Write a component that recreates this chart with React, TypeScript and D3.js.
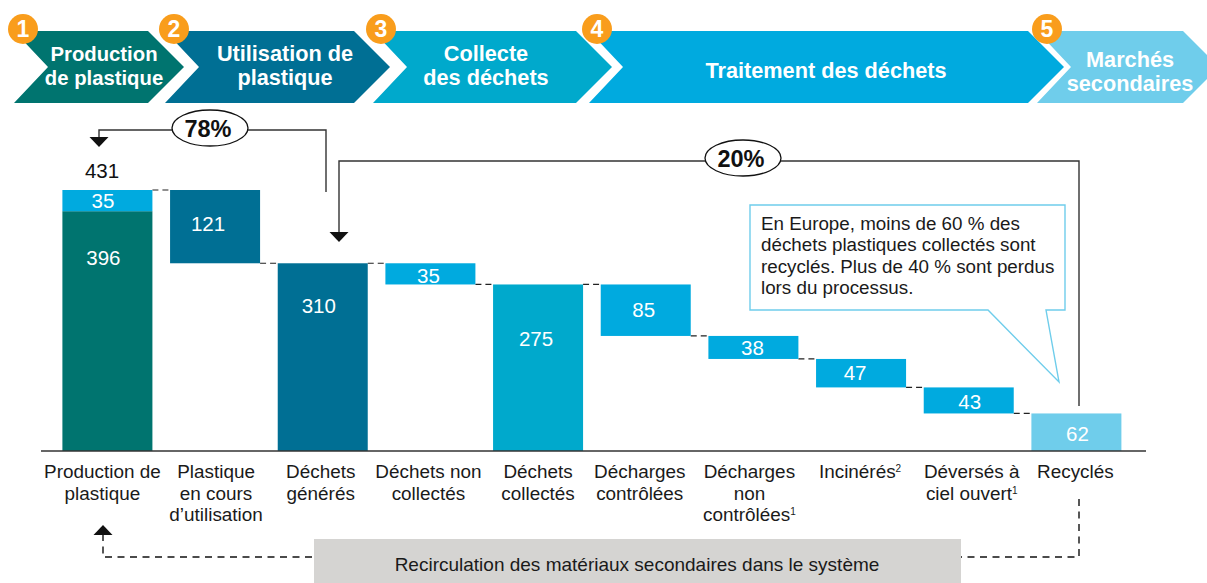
import React, { useEffect, useRef } from 'react';
import * as d3 from 'd3';

// values, in millions of tonnes
const categories = [
    'Production de plastique', 'Plastique en cours', 'Déchets générés', 'Déchets non collectés', 'Déchets collectés',
    'Décharges contrôlées', 'Décharges non contrôlées', 'Incinérés', 'Déversés à ciel ouvert', 'Recyclés',
];
const barValues = [396, 121, 310, 35, 275, 85, 38, 47, 43, 62];
const barTops = [396, 431, 310, 310, 275, 275, 190, 152, 105, 62];
const barBottoms = [0, 310, 0, 275, 0, 190, 152, 105, 62, 0];
const connectorLevels = [431, 310, 310, 275, 275, 190, 152, 105, 62];
const extraSegment = 35; // light part on top of the first bar
const total = 431;
const barColors = ['#00746f', '#006f94', '#006f94', '#00aadf', '#00a9cc', '#00aadf', '#00aadf', '#00aadf', '#00aadf', '#6fcdeb'];

// tick text, one entry per line; [text, superscript]
const tickLines: [string, string?][][] = [
    [['Production de'], ['plastique']],
    [['Plastique'], ['en cours'], ['d’utilisation']],
    [['Déchets'], ['générés']],
    [['Déchets non'], ['collectés']],
    [['Déchets'], ['collectés']],
    [['Décharges'], ['contrôlées']],
    [['Décharges'], ['non'], ['contrôlées', '1']],
    [['Incinérés', '2']],
    [['Déversés à'], ['ciel ouvert', '1']],
    [['Recyclés']],
];

const stages = [
    { n: 1, lines: ['Production', 'de plastique'], color: '#00746f' },
    { n: 2, lines: ['Utilisation de', 'plastique'], color: '#006f94' },
    { n: 3, lines: ['Collecte', 'des déchets'], color: '#00a9cc' },
    { n: 4, lines: ['Traitement des déchets'], color: '#00aadf' },
    { n: 5, lines: ['Marchés', 'secondaires'], color: '#6fcdeb' },
];
const calloutLines = [
    'En Europe, moins de 60 % des',
    'déchets plastiques collectés sont',
    'recyclés. Plus de 40 % sont perdus',
    'lors du processus.',
];

// layout of the header: left, right (shoulder), text centre, badge centre, font size
const stageBox = [
    [14, 148, 104, 23, 20.3],
    [165, 354, 285, 174, 21.7],
    [373, 576, 486, 381, 21.7],
    [589, 1028, 826, 597, 21.7],
    [1037, 1183, 1130, 1047, 21.7],
];
// tweaks of the value labels in the bars, relative to bar centre
const labelDx = [-4, -7, -4, -2, -2, -2, -1, -6, 1, 1];
const labelY = [258, 224, 306, 276, 339, 310, 348, 373, 402, 434];
const tickDx = [-5, 1, -2, -2, 0, -6, -4, -1, 3, -1];

const FONT = '"Liberation Sans", Arial, sans-serif';

function App() {
    const ref = useRef<SVGSVGElement>(null);

    useEffect(() => {
        const svg = d3.select(ref.current);
        svg.selectAll('*').remove();
        svg.attr('font-family', FONT);

        const x = d3.scaleBand<string>().domain(categories).range([62.4, 1121.4]).paddingInner(0.164);
        const y = d3.scaleLinear().domain([0, total]).range([451, 190]);
        const line = d3.line();

        // header chevrons
        const head = svg.append('g');
        stages.forEach((s, i) => {
            const [l, r, cx, , size] = stageBox[i];
            const pts: [number, number][] = [[l, 31], [r, 31], [r + 36, 67], [r, 103], [l, 103], [l + 34, 67]];
            head.append('path').attr('d', line(pts) + 'Z').attr('fill', s.color);
            const base = i === 4 ? 67 : s.lines.length === 1 ? 78 : 61;
            s.lines.forEach((t, j) => {
                head.append('text').attr('x', cx).attr('y', base + j * 24).attr('text-anchor', 'middle')
                    .attr('fill', 'white').attr('font-size', size).attr('font-weight', 'bold').text(t);
            });
        });
        stages.forEach((s, i) => {
            const bx = stageBox[i][3];
            head.append('circle').attr('cx', bx).attr('cy', 29).attr('r', 15).attr('fill', '#f99d1c');
            head.append('text').attr('x', bx).attr('y', 37).attr('text-anchor', 'middle').attr('fill', 'white')
                .attr('font-size', 23).attr('font-weight', 'bold').text(s.n);
        });

        // connectors between bars
        svg.append('g').selectAll('line').data(connectorLevels).enter().append('line')
            .attr('x1', (d, i) => x(categories[i])! + x.bandwidth())
            .attr('x2', (d, i) => x(categories[i + 1])!)
            .attr('y1', d => y(d))
            .attr('y2', d => y(d))
            .attr('stroke', '#222').attr('stroke-width', 1.2).attr('stroke-dasharray', '6 4');

        // bars
        svg.append('g').selectAll('rect').data(categories).enter().append('rect')
            .attr('x', d => x(d)!)
            .attr('width', x.bandwidth())
            .attr('y', (d, i) => y(barTops[i]))
            .attr('height', (d, i) => y(barBottoms[i]) - y(barTops[i]))
            .attr('fill', (d, i) => barColors[i]);
        svg.append('rect').attr('x', x(categories[0])!).attr('width', x.bandwidth())
            .attr('y', y(total)).attr('height', y(total - extraSegment) - y(total)).attr('fill', '#00aadf');

        // baseline
        svg.append('line').attr('x1', 41).attr('x2', 1146).attr('y1', y(0)).attr('y2', y(0))
            .attr('stroke', '#333').attr('stroke-width', 1.5);

        // value labels
        svg.append('g').selectAll('text').data(categories).enter().append('text')
            .attr('x', d => x(d)! + x.bandwidth() / 2)
            .attr('dx', (d, i) => labelDx[i])
            .attr('y', (d, i) => labelY[i] + 7)
            .attr('text-anchor', 'middle').attr('fill', 'white').attr('font-size', 20.5)
            .text((d, i) => barValues[i]);
        svg.append('text').attr('x', 103).attr('y', 208).attr('text-anchor', 'middle').attr('fill', 'white')
            .attr('font-size', 20.5).text(extraSegment);
        svg.append('text').attr('x', 102).attr('y', 178).attr('text-anchor', 'middle').attr('fill', '#111')
            .attr('font-size', 20.5).text(total);

        // tick labels
        const ticks = svg.append('g');
        categories.forEach((c, i) => {
            tickLines[i].forEach(([t, sup], j) => {
                const el = ticks.append('text').attr('x', x(c)! + x.bandwidth() / 2 + tickDx[i]).attr('y', 478 + j * 21.5)
                    .attr('text-anchor', 'middle').attr('fill', '#1a1a1a').attr('font-size', 18.9).text(t);
                if (sup) el.append('tspan').attr('dy', -6).attr('font-size', 10).text(sup);
            });
        });

        // flow arrows
        const arrows = svg.append('g').attr('fill', 'none').attr('stroke', '#333').attr('stroke-width', 1.4);
        arrows.append('path').attr('d', line([[326, 192], [326, 130], [99, 130], [99, 138]]));
        arrows.append('path').attr('d', line([[1079, 406], [1079, 161], [339, 161], [339, 233]]));
        arrows.append('path').attr('stroke', '#111').attr('stroke-dasharray', '7 5.5')
            .attr('d', line([[1079, 499], [1079, 557], [103, 557], [103, 534]]));

        const tri = (cx: number, tip: number, dir: number) =>
            line([[cx - 9.5, tip - 10 * dir], [cx + 9.5, tip - 10 * dir], [cx, tip]]) + 'Z';
        svg.append('path').attr('d', tri(99, 147, 1)).attr('fill', '#111');
        svg.append('path').attr('d', tri(339, 242, 1)).attr('fill', '#111');
        svg.append('path').attr('d', tri(103, 525, -1)).attr('fill', '#111');

        // percentage bubbles
        [['78%', 210, 128], ['20%', 743, 158]].forEach(([t, cx, cy]) => {
            svg.append('ellipse').attr('cx', cx).attr('cy', cy).attr('rx', 38).attr('ry', 18)
                .attr('fill', 'white').attr('stroke', '#111').attr('stroke-width', 1.3);
            svg.append('text').attr('x', +cx - 2).attr('y', +cy + 8.5).attr('text-anchor', 'middle').attr('fill', '#111')
                .attr('font-size', 23.5).attr('font-weight', 'bold').text(t);
        });

        // callout
        svg.append('path')
            .attr('d', line([[750, 205], [1065, 205], [1065, 310], [1046, 310], [1059, 382], [988, 310], [750, 310]]) + 'Z')
            .attr('fill', 'white').attr('stroke', '#6fcdeb').attr('stroke-width', 1.4);
        calloutLines.forEach((t, i) => {
            svg.append('text').attr('x', 761).attr('y', 230 + i * 21.3).attr('fill', '#1a1a1a').attr('font-size', 18.8).text(t);
        });

        // recirculation box
        svg.append('rect').attr('x', 314).attr('y', 539).attr('width', 647).attr('height', 44).attr('fill', '#d5d4d2');
        svg.append('text').attr('x', 637).attr('y', 571).attr('text-anchor', 'middle').attr('fill', '#1a1a1a')
            .attr('font-size', 19).text('Recirculation des matériaux secondaires dans le système');
    }, []);

    return (
        <svg ref={ref} width={1207} height={583} style={{ position: 'absolute', left: 0, top: 0, display: 'block' }}></svg>
    );
}

export default App;
